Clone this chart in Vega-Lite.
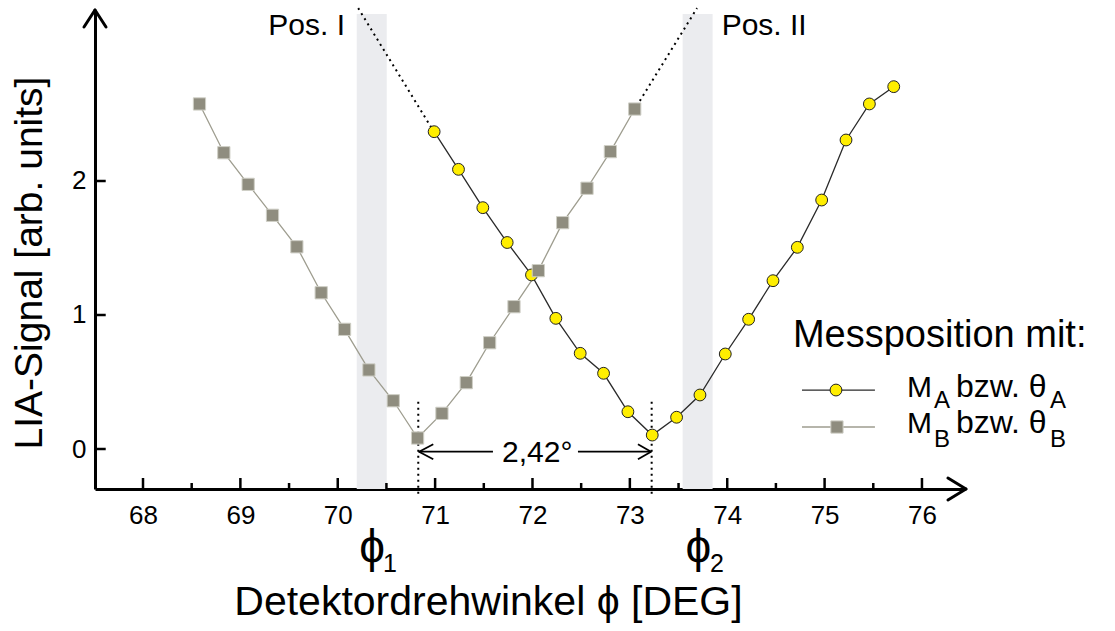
{
  "$schema": "https://vega.github.io/schema/vega-lite/v6.json",
  "width": 870,
  "height": 479,
  "autosize": {"type": "none"},
  "padding": {"left": 95, "top": 10, "right": 150, "bottom": 142},
  "background": "white",
  "config": {
    "view": {"stroke": null},
    "font": "Liberation Sans",
    "axis": {"grid": false, "ticks": false, "tickSize": 0, "domainColor": "black", "domainWidth": 3, "labelColor": "black", "labelFontSize": 26, "labelFont": "Liberation Sans", "format": "d"},
    "axisX": {"labelPadding": 13},
    "axisY": {"labelPadding": 9}
  },
  "datasets": {
    "pts": [
      {"s": "A", "x": 70.99, "y": 2.368}, {"s": "A", "x": 71.24, "y": 2.087}, {"s": "A", "x": 71.49, "y": 1.801},
      {"s": "A", "x": 71.74, "y": 1.541}, {"s": "A", "x": 71.99, "y": 1.299}, {"s": "A", "x": 72.24, "y": 0.975},
      {"s": "A", "x": 72.49, "y": 0.714}, {"s": "A", "x": 72.73, "y": 0.565}, {"s": "A", "x": 72.98, "y": 0.278},
      {"s": "A", "x": 73.23, "y": 0.104}, {"s": "A", "x": 73.48, "y": 0.237}, {"s": "A", "x": 73.72, "y": 0.403},
      {"s": "A", "x": 73.98, "y": 0.709}, {"s": "A", "x": 74.22, "y": 0.968}, {"s": "A", "x": 74.47, "y": 1.256},
      {"s": "A", "x": 74.72, "y": 1.505}, {"s": "A", "x": 74.97, "y": 1.858}, {"s": "A", "x": 75.22, "y": 2.306},
      {"s": "A", "x": 75.46, "y": 2.575}, {"s": "A", "x": 75.71, "y": 2.704},
      {"s": "B", "x": 68.58, "y": 2.575}, {"s": "B", "x": 68.83, "y": 2.211}, {"s": "B", "x": 69.08, "y": 1.975},
      {"s": "B", "x": 69.33, "y": 1.744}, {"s": "B", "x": 69.58, "y": 1.509}, {"s": "B", "x": 69.83, "y": 1.166},
      {"s": "B", "x": 70.07, "y": 0.893}, {"s": "B", "x": 70.32, "y": 0.59}, {"s": "B", "x": 70.57, "y": 0.36},
      {"s": "B", "x": 70.82, "y": 0.082}, {"s": "B", "x": 71.07, "y": 0.266}, {"s": "B", "x": 71.32, "y": 0.495},
      {"s": "B", "x": 71.56, "y": 0.793}, {"s": "B", "x": 71.81, "y": 1.062}, {"s": "B", "x": 72.06, "y": 1.331},
      {"s": "B", "x": 72.31, "y": 1.689}, {"s": "B", "x": 72.56, "y": 1.946}, {"s": "B", "x": 72.8, "y": 2.219},
      {"s": "B", "x": 73.05, "y": 2.537}
    ],
    "bands": [
      {"x": 70.195, "x2": 70.503, "y": -0.2985, "y2": 3.246},
      {"x": 73.542, "x2": 73.85, "y": -0.2985, "y2": 3.246}
    ],
    "ticks": [
      {"x": 68, "x2": 68, "y": -0.2985, "y2": -0.2164}, {"x": 69, "x2": 69, "y": -0.2985, "y2": -0.2164},
      {"x": 70, "x2": 70, "y": -0.2985, "y2": -0.2164}, {"x": 71, "x2": 71, "y": -0.2985, "y2": -0.2164},
      {"x": 72, "x2": 72, "y": -0.2985, "y2": -0.2164}, {"x": 73, "x2": 73, "y": -0.2985, "y2": -0.2164},
      {"x": 74, "x2": 74, "y": -0.2985, "y2": -0.2164}, {"x": 75, "x2": 75, "y": -0.2985, "y2": -0.2164},
      {"x": 76, "x2": 76, "y": -0.2985, "y2": -0.2164},
      {"x": 68.5, "x2": 68.5, "y": -0.2985, "y2": -0.2537}, {"x": 69.5, "x2": 69.5, "y": -0.2985, "y2": -0.2537},
      {"x": 70.5, "x2": 70.5, "y": -0.2985, "y2": -0.2537}, {"x": 71.5, "x2": 71.5, "y": -0.2985, "y2": -0.2537},
      {"x": 72.5, "x2": 72.5, "y": -0.2985, "y2": -0.2537}, {"x": 73.5, "x2": 73.5, "y": -0.2985, "y2": -0.2537},
      {"x": 74.5, "x2": 74.5, "y": -0.2985, "y2": -0.2537}, {"x": 75.5, "x2": 75.5, "y": -0.2985, "y2": -0.2537},
      {"x": 67.507, "x2": 67.617, "y": 0, "y2": 0}, {"x": 67.507, "x2": 67.617, "y": 1, "y2": 1},
      {"x": 67.507, "x2": 67.617, "y": 2, "y2": 2}
    ],
    "axisArrows": [
      {"x": 67.394, "y": 3.149, "x2": 67.507, "y2": 3.2761},
      {"x": 67.62, "y": 3.149, "x2": 67.507, "y2": 3.2761},
      {"x": 76.267, "y": -0.2164, "x2": 76.452, "y2": -0.2985},
      {"x": 76.267, "y": -0.3806, "x2": 76.452, "y2": -0.2985}
    ],
    "dimArrows": [
      {"x": 70.827, "y": -0.02, "x2": 71.594, "y2": -0.02},
      {"x": 72.467, "y": -0.02, "x2": 73.224, "y2": -0.02},
      {"x": 70.981, "y": 0.036, "x2": 70.835, "y2": -0.02},
      {"x": 70.981, "y": -0.076, "x2": 70.835, "y2": -0.02},
      {"x": 73.083, "y": 0.036, "x2": 73.218, "y2": -0.02},
      {"x": 73.083, "y": -0.076, "x2": 73.218, "y2": -0.02}
    ],
    "dotted": [
      {"x": 70.827, "y": 0.353, "x2": 70.827, "y2": -0.343},
      {"x": 73.224, "y": 0.353, "x2": 73.224, "y2": -0.343},
      {"x": 70.21, "y": 3.29, "x2": 70.96, "y2": 2.40},
      {"x": 73.07, "y": 2.56, "x2": 73.69, "y2": 3.29}
    ],
    "legLines": [
      {"s": "A", "x": 74.768, "x2": 75.517, "y": 0.44, "y2": 0.44},
      {"s": "B", "x": 74.768, "x2": 75.517, "y": 0.164, "y2": 0.164}
    ],
    "legPts": [
      {"s": "A", "x": 75.117, "y": 0.44},
      {"s": "B", "x": 75.127, "y": 0.164}
    ],
    "t30": [
      {"x": 69.287, "y": 3.09, "t": "Pos. I"},
      {"x": 73.943, "y": 3.09, "t": "Pos. II"},
      {"x": 71.687, "y": -0.095, "t": "2,42°"},
      {"x": 75.846, "y": 0.388, "t": "M"},
      {"x": 75.846, "y": 0.119, "t": "M"}
    ],
    "t32": [
      {"x": 76.349, "y": 0.388, "t": "bzw. θ"},
      {"x": 76.349, "y": 0.119, "t": "bzw. θ"}
    ],
    "t24": [
      {"x": 76.123, "y": 0.306, "t": "A"},
      {"x": 77.315, "y": 0.306, "t": "A"},
      {"x": 76.123, "y": 0.015, "t": "B"},
      {"x": 77.315, "y": 0.015, "t": "B"}
    ],
    "t25": [
      {"x": 70.465, "y": -0.916, "t": "1"},
      {"x": 73.823, "y": -0.916, "t": "2"}
    ],
    "t37": [
      {"x": 74.675, "y": 0.761, "t": "Messposition mit:"}
    ],
    "phi": [
      {"x": 70.352, "y": -0.841, "t": "ϕ"},
      {"x": 73.703, "y": -0.841, "t": "ϕ"}
    ],
    "xtitle": [
      {"x": 71.548, "y": -1.239, "t": "Detektordrehwinkel ϕ [DEG]"}
    ],
    "ytitle": [
      {"x": 66.835, "y": 1.388, "t": "LIA-Signal [arb. units]"}
    ]
  },
  "layer": [
    {
      "data": {"name": "bands"},
      "mark": {"type": "rect", "fill": "#ebecef"},
      "encoding": {
        "x": {"field": "x", "type": "quantitative", "scale": {"domain": [67.507, 76.442], "nice": false, "zero": false}, "axis": {"values": [68, 69, 70, 71, 72, 73, 74, 75, 76], "title": null, "format": "d"}},
        "x2": {"field": "x2"},
        "y": {"field": "y", "type": "quantitative", "scale": {"domain": [-0.2985, 3.2761], "nice": false, "zero": false}, "axis": {"values": [0, 1, 2], "title": null, "format": "d"}},
        "y2": {"field": "y2"}
      }
    },
    {
      "data": {"name": "ticks"},
      "mark": {"type": "rule", "stroke": "black", "strokeWidth": 2.5},
      "encoding": {
        "x": {"field": "x", "type": "quantitative", "title": null}, "x2": {"field": "x2"},
        "y": {"field": "y", "type": "quantitative", "title": null}, "y2": {"field": "y2"}
      }
    },
    {
      "data": {"name": "pts"},
      "mark": {"type": "line", "strokeWidth": 1.3},
      "encoding": {
        "x": {"field": "x", "type": "quantitative", "title": null},
        "y": {"field": "y", "type": "quantitative", "title": null},
        "color": {"field": "s", "type": "nominal", "scale": {"domain": ["A", "B"], "range": ["#2a2a2a", "#9e9d8f"]}, "legend": null}
      }
    },
    {
      "data": {"name": "legLines"},
      "mark": {"type": "rule", "strokeWidth": 1.3},
      "encoding": {
        "x": {"field": "x", "type": "quantitative", "title": null}, "x2": {"field": "x2"},
        "y": {"field": "y", "type": "quantitative", "title": null}, "y2": {"field": "y2"},
        "color": {"field": "s", "type": "nominal", "legend": null}
      }
    },
    {
      "data": {"name": "dotted"},
      "mark": {"type": "rule", "stroke": "black", "strokeWidth": 2, "strokeDash": [2, 4]},
      "encoding": {
        "x": {"field": "x", "type": "quantitative", "title": null}, "x2": {"field": "x2"},
        "y": {"field": "y", "type": "quantitative", "title": null}, "y2": {"field": "y2"}
      }
    },
    {
      "data": {"name": "axisArrows"},
      "mark": {"type": "rule", "stroke": "black", "strokeWidth": 3, "strokeCap": "round"},
      "encoding": {
        "x": {"field": "x", "type": "quantitative", "title": null}, "x2": {"field": "x2"},
        "y": {"field": "y", "type": "quantitative", "title": null}, "y2": {"field": "y2"}
      }
    },
    {
      "data": {"name": "dimArrows"},
      "mark": {"type": "rule", "stroke": "black", "strokeWidth": 1.8},
      "encoding": {
        "x": {"field": "x", "type": "quantitative", "title": null}, "x2": {"field": "x2"},
        "y": {"field": "y", "type": "quantitative", "title": null}, "y2": {"field": "y2"}
      }
    },
    {
      "data": {"name": "pts"},
      "mark": {"type": "point", "filled": true, "opacity": 1, "strokeWidth": 1},
      "encoding": {
        "x": {"field": "x", "type": "quantitative", "title": null},
        "y": {"field": "y", "type": "quantitative", "title": null},
        "shape": {"field": "s", "type": "nominal", "scale": {"domain": ["A", "B"], "range": ["circle", "square"]}, "legend": null},
        "fill": {"field": "s", "type": "nominal", "scale": {"domain": ["A", "B"], "range": ["#ffee00", "#8f8d7f"]}, "legend": null},
        "stroke": {"field": "s", "type": "nominal", "scale": {"domain": ["A", "B"], "range": ["#222222", "#cfcfc6"]}, "legend": null},
        "size": {"field": "s", "type": "ordinal", "scale": {"domain": ["A", "B"], "range": [140, 150]}, "legend": null}
      }
    },
    {
      "data": {"name": "legPts"},
      "mark": {"type": "point", "filled": true, "opacity": 1, "strokeWidth": 1},
      "encoding": {
        "x": {"field": "x", "type": "quantitative", "title": null},
        "y": {"field": "y", "type": "quantitative", "title": null},
        "shape": {"field": "s", "type": "nominal", "legend": null},
        "fill": {"field": "s", "type": "nominal", "legend": null},
        "stroke": {"field": "s", "type": "nominal", "legend": null},
        "size": {"field": "s", "type": "ordinal", "legend": null}
      }
    },
    {
      "data": {"name": "t30"},
      "mark": {"type": "text", "fontSize": 30, "align": "left", "baseline": "alphabetic", "font": "Liberation Sans", "fill": "black"},
      "encoding": {
        "x": {"field": "x", "type": "quantitative", "title": null},
        "y": {"field": "y", "type": "quantitative", "title": null},
        "text": {"field": "t"}
      }
    },
    {
      "data": {"name": "t32"},
      "mark": {"type": "text", "fontSize": 32, "align": "left", "baseline": "alphabetic", "font": "Liberation Sans", "fill": "black"},
      "encoding": {
        "x": {"field": "x", "type": "quantitative", "title": null},
        "y": {"field": "y", "type": "quantitative", "title": null},
        "text": {"field": "t"}
      }
    },
    {
      "data": {"name": "t24"},
      "mark": {"type": "text", "fontSize": 24, "align": "left", "baseline": "alphabetic", "font": "Liberation Sans", "fill": "black"},
      "encoding": {
        "x": {"field": "x", "type": "quantitative", "title": null},
        "y": {"field": "y", "type": "quantitative", "title": null},
        "text": {"field": "t"}
      }
    },
    {
      "data": {"name": "t25"},
      "mark": {"type": "text", "fontSize": 25, "align": "left", "baseline": "alphabetic", "font": "Liberation Sans", "fill": "black"},
      "encoding": {
        "x": {"field": "x", "type": "quantitative", "title": null},
        "y": {"field": "y", "type": "quantitative", "title": null},
        "text": {"field": "t"}
      }
    },
    {
      "data": {"name": "t37"},
      "mark": {"type": "text", "fontSize": 38, "align": "left", "baseline": "alphabetic", "font": "Liberation Sans", "fill": "black"},
      "encoding": {
        "x": {"field": "x", "type": "quantitative", "title": null},
        "y": {"field": "y", "type": "quantitative", "title": null},
        "text": {"field": "t"}
      }
    },
    {
      "data": {"name": "phi"},
      "mark": {"type": "text", "fontSize": 46, "align": "center", "baseline": "alphabetic", "font": "Liberation Sans", "fill": "black"},
      "encoding": {
        "x": {"field": "x", "type": "quantitative", "title": null},
        "y": {"field": "y", "type": "quantitative", "title": null},
        "text": {"field": "t"}
      }
    },
    {
      "data": {"name": "xtitle"},
      "mark": {"type": "text", "fontSize": 41, "align": "center", "baseline": "alphabetic", "font": "Liberation Sans", "fill": "black"},
      "encoding": {
        "x": {"field": "x", "type": "quantitative", "title": null},
        "y": {"field": "y", "type": "quantitative", "title": null},
        "text": {"field": "t"}
      }
    },
    {
      "data": {"name": "ytitle"},
      "mark": {"type": "text", "fontSize": 39, "align": "center", "baseline": "middle", "angle": 270, "font": "Liberation Sans", "fill": "black"},
      "encoding": {
        "x": {"field": "x", "type": "quantitative", "title": null},
        "y": {"field": "y", "type": "quantitative", "title": null},
        "text": {"field": "t"}
      }
    }
  ]
}
